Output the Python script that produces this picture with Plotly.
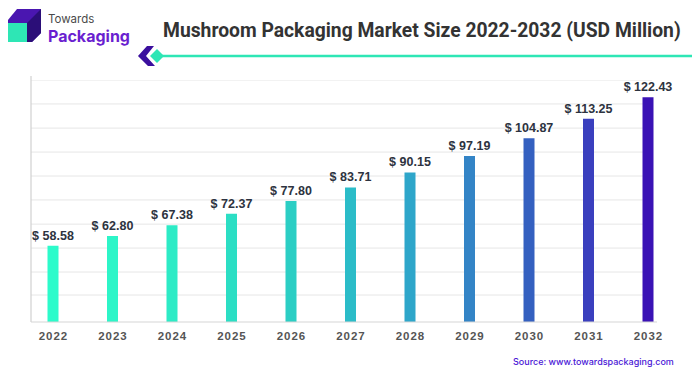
import plotly.graph_objects as go

years = [2022, 2023, 2024, 2025, 2026, 2027, 2028, 2029, 2030, 2031, 2032]
values = [58.58, 62.80, 67.38, 72.37, 77.80, 83.71, 90.15, 97.19, 104.87, 113.25, 122.43]
bar_colors = ["#2CFBCB", "#2DF5C8", "#2DEBC6", "#2BDEC4", "#2BCEC4", "#2BBCC8",
              "#2EA6CA", "#3384C6", "#3460C0", "#3A3FBE", "#3A12B5"]
labels = ["$ %.2f" % v for v in values]
tick_text = ["\u200a".join(list(str(y))) for y in years]
grid_vals = [129.9, 119.6, 109.2, 98.9, 88.6, 78.3, 67.9, 57.6, 47.3, 37.4]

# page body has an 8px margin; compensate
O = 8
W, H = 700 - O, 375 - O
L, R, T, B = 31, 660, 80, 322  # reference pixel coords of plot area
x0 = 2022 - 22 / 59.5
x1 = x0 + (R - L) / 59.5
y0, y1 = 25.8, 129.9


def px(x):
    return (x - L) / (R - L)


def py(y):
    return (B - y) / (B - T)


fig = go.Figure()
fig.add_trace(go.Bar(
    x=years, y=values, width=0.185,
    marker=dict(color=bar_colors, line=dict(width=0)),
    text=labels, textposition="outside", cliponaxis=False, constraintext="none",
    textfont=dict(family="Liberation Sans", size=12.5, color="#2d3340", weight="bold"),
))

shapes = []
for g in grid_vals:
    shapes.append(dict(type="line", xref="paper", yref="y", x0=0, x1=px(652), y0=g, y1=g,
                       line=dict(color="#e6e6e6", width=1), layer="below"))
shapes.append(dict(type="line", xref="paper", yref="paper", x0=0, x1=0, y0=0, y1=py(76),
                   line=dict(color="#d0d0d0", width=1.2)))
shapes.append(dict(type="line", xref="paper", yref="paper", x0=0, x1=px(657), y0=0, y1=0,
                   line=dict(color="#d6d6d6", width=1.2)))
shapes.append(dict(type="line", xref="paper", yref="paper", x0=px(160), x1=px(700), y0=py(56), y1=py(56),
                   line=dict(color="#2EE6B5", width=2.5)))


def path(points):
    return "M " + " L ".join("%f %f" % (px(a), py(b)) for a, b in points) + " Z"


shapes.append(dict(type="path", xref="paper", yref="paper",
                   path=path([(147, 46), (154, 46), (146, 56), (155, 66), (148, 66), (138, 56)]),
                   fillcolor="#3B0F9E", line=dict(width=0)))
shapes.append(dict(type="path", xref="paper", yref="paper",
                   path=path([(157, 49), (164, 56), (157, 63), (150, 56)]),
                   fillcolor="#2EE6B5", line=dict(width=0)))
shapes.append(dict(type="path", xref="paper", yref="paper",
                   path=path([(8, 42), (8, 20), (17, 9), (41, 9), (41, 33), (32, 42)]),
                   fillcolor="#4A16B0", line=dict(width=0)))
shapes.append(dict(type="path", xref="paper", yref="paper",
                   path=path([(27, 23), (41, 9), (41, 33), (32, 42), (27, 42)]),
                   fillcolor="#2B0E78", line=dict(width=0)))
shapes.append(dict(type="rect", xref="paper", yref="paper",
                   x0=px(8), x1=px(27), y0=py(42), y1=py(23),
                   fillcolor="#2EE6B5", line=dict(width=0)))

annotations = [
    dict(text="Mushroom Packaging Market Size 2022-2032 (USD Million)", xref="paper", yref="paper",
         x=px(422), y=py(30), xanchor="center", yanchor="middle", showarrow=False,
         font=dict(family="Roboto", size=19.3, color="#333333", weight="bold")),
    dict(text="Towards", xref="paper", yref="paper", x=px(46), y=py(19), xanchor="left", yanchor="middle",
         showarrow=False, font=dict(family="Inter", size=11.5, color="#4a4a4a")),
    dict(text="Packaging", xref="paper", yref="paper", x=px(46), y=py(36), xanchor="left", yanchor="middle",
         showarrow=False, font=dict(family="Inter", size=16, color="#6A1FD0", weight="bold")),
    dict(text="Source: www.towardspackaging.com", xref="paper", yref="paper", x=px(676), y=py(361),
         xanchor="right", yanchor="middle", showarrow=False,
         font=dict(family="Inter", size=9, color="#4A17D6", weight=500)),
]

fig.update_layout(
    width=W, height=H,
    margin=dict(l=L - O, r=700 - R, t=T - O, b=375 - B, pad=0),
    paper_bgcolor="white", plot_bgcolor="white",
    showlegend=False,
    shapes=shapes, annotations=annotations,
    xaxis=dict(range=[x0, x1], tickmode="array", tickvals=years, ticktext=tick_text,
               showgrid=False, zeroline=False, showline=False, ticks="",
               tickfont=dict(family="Liberation Sans", size=11.5, color="#555555", weight="bold"),
               ticklabelstandoff=5),
    yaxis=dict(range=[y0, y1], showgrid=False, zeroline=False, showticklabels=False,
               showline=False, ticks=""),
)
fig.write_html("out.html")
